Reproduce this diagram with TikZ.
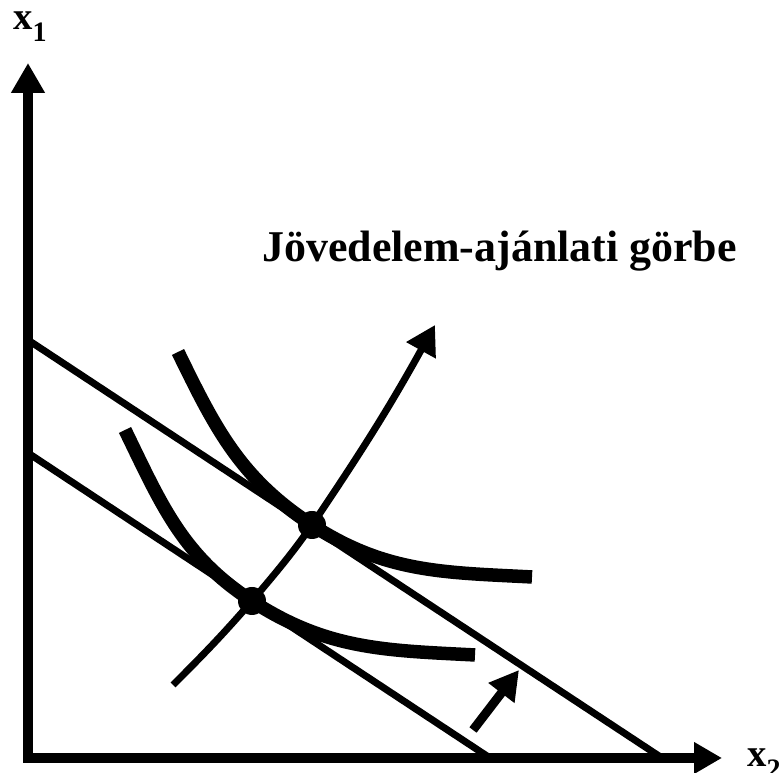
\documentclass[tikz,border=0pt]{standalone}
\usepackage{fontspec}
\setmainfont{Liberation Serif}
\usetikzlibrary{arrows.meta}

\newcommand{\axislab}[2]{{\bfseries\fontsize{22}{22}\selectfont #1}\raisebox{-0.24cm}{\bfseries\fontsize{16}{16}\selectfont #2}}

\tikzset{
  axis/.style={line width=0.19cm, line join=miter,
    arrows={Triangle[length=0.6cm,width=0.64cm]-Triangle[length=0.56cm,width=0.6cm]}},
  budget/.style={line width=0.14cm},
  indiff/.style={line width=0.27cm, line cap=butt},
  expansion/.style={line width=0.14cm, arrows={-Triangle[length=0.58cm,width=0.64cm]}},
  shift arrow/.style={line width=0.18cm, arrows={-Triangle[length=0.58cm,width=0.62cm]}},
  dot/.style={circle, fill=black, inner sep=0pt, minimum size=0.56cm},
  lab/.style={inner sep=0pt, anchor=base west}
}

\begin{document}
\begin{tikzpicture}[x=0.02cm, y=0.02cm]
\useasboundingbox (0,0) rectangle (782,773);
% key points
\coordinate (O) at (28,15);
\coordinate (ytip) at (28,710);
\coordinate (xtip) at (722,15);
\coordinate (b1s) at (28,320);
\coordinate (b1e) at (490,15);
\coordinate (b2s) at (28,433);
\coordinate (b2e) at (662,15);
\coordinate (A) at (252,172);
\coordinate (B) at (312,248);
\coordinate (u1s) at (125,343);
\coordinate (u1e) at (475,118);
\coordinate (u2s) at (178,421);
\coordinate (u2e) at (532,196);
\coordinate (es) at (173,88);
\coordinate (et) at (435,448);
\coordinate (ps) at (473,43);
\coordinate (pt) at (519,103);

% budget lines
\draw[budget] (b1s) -- (b1e);
\draw[budget] (b2s) -- (b2e);
% indifference curves
\draw[indiff] (u1s) to[out=-64,in=147] (A) to[out=-33,in=177] (u1e);
\draw[indiff] (u2s) to[out=-64,in=147] (B) to[out=-33,in=177] (u2e);
% income expansion path
\draw[expansion] (es) to[out=45,in=-131] (A) to[out=50,in=-125] (B) to[out=56,in=-119] (et);
\draw[shift arrow] (ps) -- (pt);
\node[dot] (nA) at (A) {};
\node[dot] (nB) at (B) {};
% axes
\draw[axis] (ytip) -- (O) -- (xtip);
\node[lab] (x1) at (13,743) {\axislab{x}{1}};
\node[lab] (x2) at (747,6) {\axislab{x}{2}};
\node[lab] (title) at (262,511) {\bfseries\fontsize{25}{25}\selectfont Jövedelem-ajánlati görbe};
\end{tikzpicture}
\end{document}
